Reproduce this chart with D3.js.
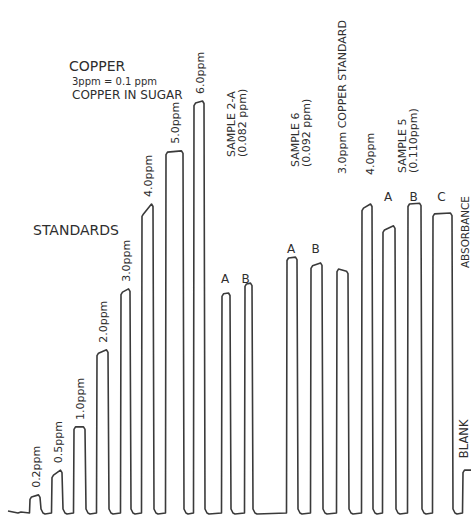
<!DOCTYPE html>
<html>
<head>
<meta charset="utf-8">
<script src="https://cdn.jsdelivr.net/npm/d3@7/dist/d3.min.js"></script>
<style>
  html, body { margin: 0; padding: 0; background: #fff; }
  svg text { font-family: "DejaVu Sans", sans-serif; fill: #2e2e2e; }
</style>
</head>
<body>
<svg id="chart"></svg>
<script>
// ======================
// DATA
// ======================

// chart time (divisions) where each peak rises / falls
const peakStart = [2.0, 4.2, 6.4, 8.7, 11.1, 13.2, 15.6, 18.4, 21.2, 23.5, 27.7, 30.1, 32.7, 35.2, 37.3, 39.8, 42.3, 45.3];
const peakEnd   = [3.0, 5.2, 7.5, 9.8, 12.0, 14.3, 17.3, 19.4, 22.0, 24.2, 28.7, 31.2, 33.8, 36.2, 38.5, 41.1, 44.2, 46.5];
// relative absorbance at the leading / trailing edge of each plateau
const absLead  = [0.039, 0.092, 0.209, 0.388, 0.536, 0.726, 0.876, 0.995, 0.532, 0.556, 0.619, 0.600, 0.592, 0.740, 0.687, 0.750, 0.726, 0.104];
const absTrail = [0.044, 0.104, 0.209, 0.396, 0.544, 0.750, 0.879, 1.000, 0.534, 0.558, 0.621, 0.607, 0.587, 0.750, 0.697, 0.752, 0.728, 0.104];

const standardLabels = ["0.2ppm", "0.5ppm", "1.0ppm", "2.0ppm", "3.0ppm", "4.0ppm", "5.0ppm", "6.0ppm"];
const replicateLetters = [null, null, null, null, null, null, null, null, "A", "B", "A", "B", null, null, "A", "B", "C", null];

const sampleLabels = [
  ["SAMPLE 2-A", "(0.082 ppm)"],
  ["SAMPLE 6", "(0.092 ppm)"],
  ["3.0ppm COPPER STANDARD"],
  ["4.0ppm"],
  ["SAMPLE 5", "(0.110ppm)"]
];
const samplePeaks = [[8, 9], [10, 11], [12], [13], [14, 15, 16]];

const noteLines = ["COPPER", "3ppm = 0.1 ppm", "COPPER IN SUGAR"];

// ======================
// SETUP
// ======================

const width = 471;
const height = 518;

const svg = d3.select("#chart")
    .attr("width", width)
    .attr("height", height);

const xScale = d3.scaleLinear().domain([0, 46]).range([10, 470]);
const yScale = d3.scaleLinear().domain([0, 1]).range([513, 101]);

const peaks = peakStart.map((s, i) => ({
  start: s,
  end: peakEnd[i],
  lead: absLead[i],
  trail: absTrail[i],
  mid: (s + peakEnd[i]) / 2
}));

// ======================
// TRACE
// ======================

// build the pen trace in pixel space, with softened corners
const base = yScale(0);
const tracePts = [[xScale(-0.2), base - 2], [xScale(0.8), base], [xScale(1.1), base - 1]];
peaks.forEach(p => {
  const xs = xScale(p.start), xe = xScale(p.end);
  const yl = yScale(p.lead), yr = yScale(p.trail);
  tracePts.push([xs - 0.5, base]);
  tracePts.push([xs, yl + 2.5]);
  tracePts.push([xs + 1.5, yl]);
  tracePts.push([xe - 1.5, yr]);
  tracePts.push([xe, yr + 2.5]);
  tracePts.push([xe + 1, base - 4]);
  tracePts.push([xe + 3, base]);
  tracePts.push([xe + 5, base + 1]);
});

svg.append("path")
    .datum(tracePts)
    .attr("fill", "none")
    .attr("stroke", "#3a3a3a")
    .attr("stroke-width", 1.6)
    .attr("stroke-linejoin", "round")
    .attr("d", d3.line().curve(d3.curveLinear));

// ======================
// LABELS
// ======================

// rotated text block: lines stacked left-to-right, centred on cx, starting at bottom
function rotatedLabel(lines, cx, bottom, size, spacing) {
  const g = svg.append("g")
      .attr("transform", `translate(${cx},${bottom}) rotate(-90)`);
  lines.forEach((t, k) => {
    const off = (k - (lines.length - 1) / 2) * spacing;
    g.append("text")
        .attr("x", 0)
        .attr("y", off + size * 0.36)
        .attr("font-size", size)
        .text(t);
  });
  return g;
}

// standards: label sits just above each plateau
standardLabels.forEach((t, i) => {
  const p = peaks[i];
  rotatedLabel([t], xScale(p.mid) + 1, yScale(Math.max(p.lead, p.trail)) - 7, 11, 0);
});

// sample / standard group labels at the top
const sampleLayout = [
  { dx: -1, bottom: 157 },
  { dx: -4, bottom: 167 },
  { dx: 0, bottom: 174 },
  { dx: 3, bottom: 175 },
  { dx: -8, bottom: 173 }
];
sampleLabels.forEach((lines, j) => {
  const cx = d3.mean(samplePeaks[j], i => xScale(peaks[i].mid)) + sampleLayout[j].dx;
  rotatedLabel(lines, cx, sampleLayout[j].bottom, 11, 11);
});

// replicate letters
const letterBaseline = { 8: 283, 9: 283, 10: 253, 11: 253, 14: 201, 15: 201, 16: 201 };
const letterShift = { 9: -2 };
replicateLetters.forEach((t, i) => {
  if (!t) return;
  svg.append("text")
      .attr("x", xScale(peaks[i].mid) - 1 + (letterShift[i] || 0))
      .attr("y", letterBaseline[i])
      .attr("text-anchor", "middle")
      .attr("font-size", 12)
      .text(t);
});

// blank and axis label at the right edge
const blank = peaks[peaks.length - 1];
rotatedLabel(["BLANK"], 463.5, yScale(blank.lead) - 12, 11.5, 0);
rotatedLabel(["ABSORBANCE"], 465, 268, 10.5, 0)
    .select("text").attr("textLength", 72);

// notes at the upper left
svg.append("text").attr("x", 69).attr("y", 71).attr("font-size", 14).text(noteLines[0]);
svg.append("text").attr("x", 72).attr("y", 85).attr("font-size", 10).text(noteLines[1]);
svg.append("text").attr("x", 72).attr("y", 99).attr("font-size", 12).text(noteLines[2]);

svg.append("text")
    .attr("x", 33)
    .attr("y", 235)
    .attr("font-size", 14)
    .text("STANDARDS");
</script>
</body>
</html>
